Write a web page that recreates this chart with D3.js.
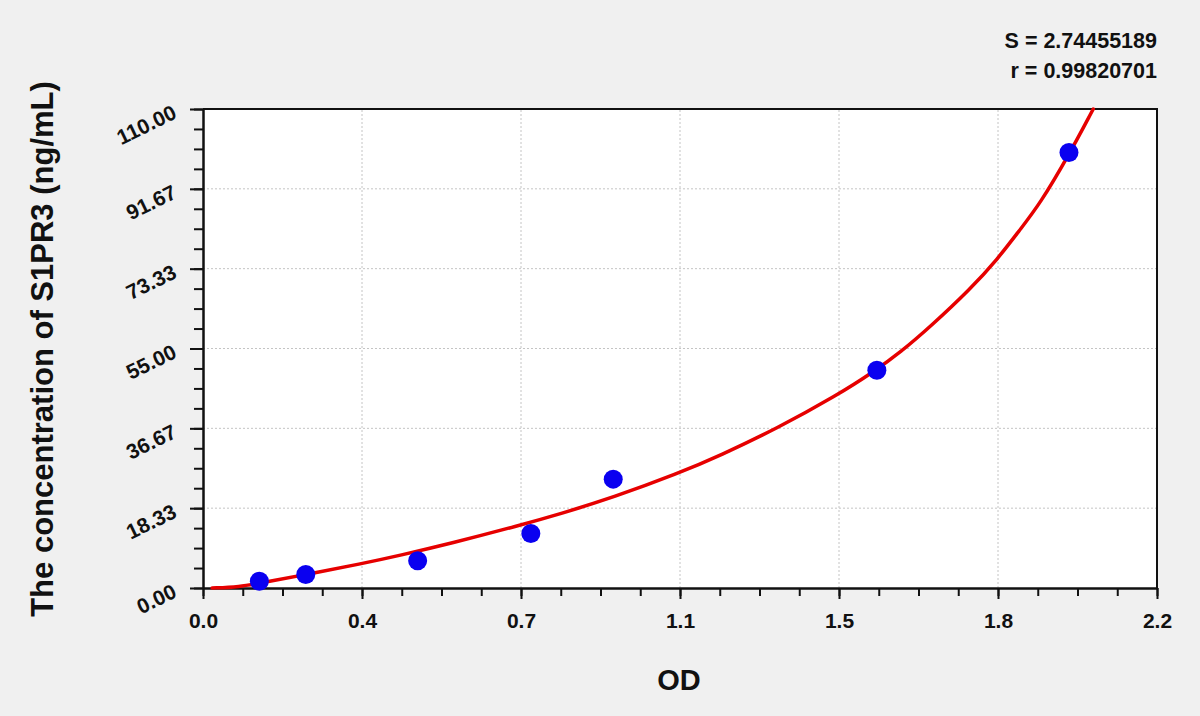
<!DOCTYPE html>
<html>
<head>
<meta charset="utf-8">
<script src="https://cdn.jsdelivr.net/npm/d3@7"></script>
<style>
  html, body { margin: 0; padding: 0; background: #f0f0f0; }
  svg { display: block; font-family: "Liberation Sans", Arial, sans-serif; }
</style>
</head>
<body>
<div id="chart"></div>
<script>
// Standard curve for S1PR3 ELISA: OD vs concentration

// Standards (measured points)
const odValues   = [0.130, 0.237, 0.495, 0.756, 0.946, 1.554, 1.997];
const concValues = [1.56, 3.12, 6.25, 12.5, 25, 50, 100];

// Fitted curve
const curveOD   = [0.021, 0.081, 0.147, 0.254, 0.362, 0.454, 0.570, 0.731, 0.823, 0.946,
                   1.096, 1.192, 1.323, 1.463, 1.546, 1.609, 1.677, 1.769, 1.833, 1.884,
                   1.930, 1.996, 2.053];
const curveConc = [0, 0.2, 1.4, 3.4, 5.5, 7.5, 10.2, 14.4, 17.0, 20.8,
                   26.3, 30.4, 36.6, 44.3, 49.6, 54.2, 60.0, 68.6, 75.6, 82.3,
                   88.2, 99.3, 110];

// Tick labels
const xTickLabels = ["0.0", "0.4", "0.7", "1.1", "1.5", "1.8", "2.2"];
const yTickLabels = ["0.00", "18.33", "36.67", "55.00", "73.33", "91.67", "110.00"];

const statLines = ["S = 2.74455189", "r = 0.99820701"];

const width = 1200, height = 716;
const xMax = 2.2, yMax = 110;

const x = d3.scaleLinear().domain([0, xMax]).range([203, 1157]);
const y = d3.scaleLinear().domain([0, yMax]).range([588, 109]);

const xMajor = xTickLabels.map((d, i) => i * xMax / (xTickLabels.length - 1));
const yMajor = yTickLabels.map((d, i) => i * yMax / (yTickLabels.length - 1));
// 4 minor intervals per major step
const xMinor = d3.range(25).map(i => i * xMax / 24);
const yMinor = d3.range(25).map(i => i * yMax / 24);

const svg = d3.select("#chart")
  .append("svg")
    .attr("width", width)
    .attr("height", height);

svg.append("rect")
    .attr("width", width)
    .attr("height", height)
    .attr("fill", "#f0f0f0");

// plot area
svg.append("rect")
    .attr("x", x(0))
    .attr("y", y(yMax))
    .attr("width", x(xMax) - x(0))
    .attr("height", y(0) - y(yMax))
    .attr("fill", "#ffffff");

// Dotted grid
svg.append("g")
  .selectAll("line")
  .data(xMajor.slice(1, -1))
  .join("line")
    .attr("x1", d => x(d)).attr("x2", d => x(d))
    .attr("y1", y(0)).attr("y2", y(yMax))
    .attr("stroke", "#c4c4c4")
    .attr("stroke-dasharray", "2,2");

svg.append("g")
  .selectAll("line")
  .data(yMajor.slice(1, -1))
  .join("line")
    .attr("x1", x(0)).attr("x2", x(xMax))
    .attr("y1", d => y(d)).attr("y2", d => y(d))
    .attr("stroke", "#c4c4c4")
    .attr("stroke-dasharray", "2,2");

// top / right frame
svg.append("path")
    .attr("d", `M${x(0)},${y(yMax)}H${x(xMax)}V${y(0)}`)
    .attr("fill", "none")
    .attr("stroke", "#111")
    .attr("stroke-width", 2);

// Minor ticks
svg.append("g")
    .attr("transform", `translate(0,${y(0)})`)
    .call(d3.axisBottom(x).tickValues(xMinor).tickSize(8).tickFormat(""))
    .call(g => g.select(".domain").remove())
    .call(g => g.selectAll("line").attr("stroke", "#111").attr("stroke-width", 2));

svg.append("g")
    .attr("transform", `translate(${x(0)},0)`)
    .call(d3.axisLeft(y).tickValues(yMinor).tickSize(9).tickFormat(""))
    .call(g => g.select(".domain").remove())
    .call(g => g.selectAll("line").attr("stroke", "#111").attr("stroke-width", 2));

// X axis
svg.append("g")
    .attr("transform", `translate(0,${y(0)})`)
    .call(d3.axisBottom(x).tickValues(xMajor).tickSize(11).tickSizeOuter(0)
      .tickFormat((d, i) => xTickLabels[i]))
    .call(g => g.select(".domain").attr("stroke", "#111").attr("stroke-width", 2.5))
    .call(g => g.selectAll(".tick line").attr("stroke", "#111").attr("stroke-width", 2))
    .call(g => g.selectAll(".tick text")
      .attr("y", 0).attr("dy", null)
      .attr("transform", "translate(0,40)")
      .attr("fill", "#111")
      .attr("font-size", "21px")
      .attr("font-weight", "bold")
      .attr("font-family", "Liberation Sans, Arial, sans-serif"));

// Y axis, labels slanted
svg.append("g")
    .attr("transform", `translate(${x(0)},0)`)
    .call(d3.axisLeft(y).tickValues(yMajor).tickSize(13).tickSizeOuter(0)
      .tickFormat((d, i) => yTickLabels[i]))
    .call(g => g.select(".domain").attr("stroke", "#111").attr("stroke-width", 2.5))
    .call(g => g.selectAll(".tick line").attr("stroke", "#111").attr("stroke-width", 2))
    .call(g => g.selectAll(".tick text")
      .attr("x", null).attr("dy", null)
      .attr("transform", "translate(-25,8) rotate(-26)")
      .attr("text-anchor", "end")
      .attr("fill", "#111")
      .attr("font-size", "21px")
      .attr("font-weight", "bold")
      .attr("font-family", "Liberation Sans, Arial, sans-serif"));

// Fitted curve
const line = d3.line()
    .x((d, i) => x(curveOD[i]))
    .y((d, i) => y(curveConc[i]))
    .curve(d3.curveBasis);

svg.append("path")
    .datum(curveOD)
    .attr("d", line)
    .attr("fill", "none")
    .attr("stroke", "#e60000")
    .attr("stroke-width", 3.5)
    .attr("stroke-linecap", "round");

// Standard points
svg.append("g")
  .selectAll("circle")
  .data(odValues)
  .join("circle")
    .attr("cx", d => x(d))
    .attr("cy", (d, i) => y(concValues[i]))
    .attr("r", 9.5)
    .attr("fill", "#0a00f0");

// Axis titles
svg.append("text")
    .attr("x", 679)
    .attr("y", 690)
    .attr("text-anchor", "middle")
    .attr("font-size", "29px")
    .attr("font-weight", "bold")
    .attr("fill", "#111")
    .text("OD");

svg.append("text")
    .attr("transform", "translate(53,349) rotate(-90)")
    .attr("text-anchor", "middle")
    .attr("font-size", "31px")
    .attr("font-weight", "bold")
    .attr("fill", "#111")
    .text("The concentration of S1PR3 (ng/mL)");

// Fit statistics
svg.append("g")
  .selectAll("text")
  .data(statLines)
  .join("text")
    .attr("x", 1157)
    .attr("y", (d, i) => 48 + i * 30)
    .attr("text-anchor", "end")
    .attr("font-size", "21.5px")
    .attr("font-weight", "bold")
    .attr("fill", "#111")
    .text(d => d);
</script>
</body>
</html>
